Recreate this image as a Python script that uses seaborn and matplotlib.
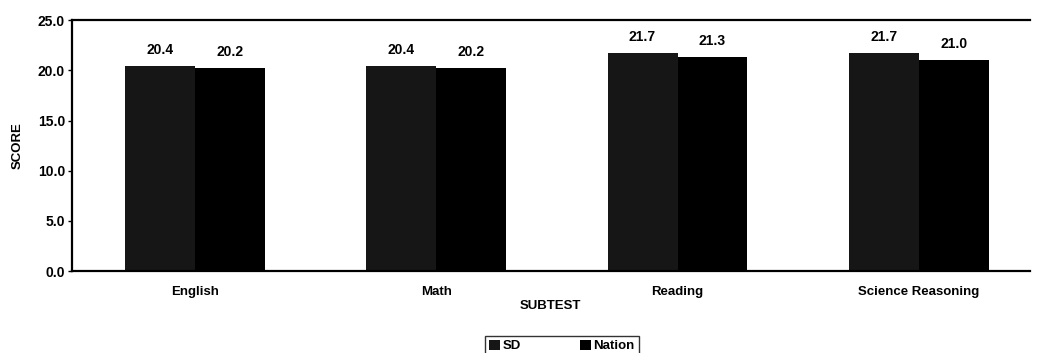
import pandas as pd
import matplotlib.pyplot as plt
import seaborn as sns

# Values
subtests = ['English', 'Math', 'Reading', 'Science Reasoning']
sd_scores = [20.4, 20.4, 21.7, 21.7]
nation_scores = [20.2, 20.2, 21.3, 21.0]
groups = ['SD', 'Nation']
colors = ['#161616', '#000000']

df = pd.DataFrame({
    'SUBTEST': subtests * 2,
    'SCORE': sd_scores + nation_scores,
    'group': [groups[0]] * len(subtests) + [groups[1]] * len(subtests),
})

sns.set_style('white')
plt.rcParams['font.family'] = ['Liberation Sans', 'DejaVu Sans']
plt.rcParams['text.color'] = 'black'
plt.rcParams['axes.labelcolor'] = 'black'
plt.rcParams['xtick.color'] = 'black'
plt.rcParams['ytick.color'] = 'black'

fig = plt.figure(figsize=(10.37, 3.53), dpi=100)
ax = fig.add_axes([0.0694, 0.232, 0.9236, 0.711])

sns.barplot(data=df, x='SUBTEST', y='SCORE', hue='group', hue_order=groups,
            palette=colors, width=0.58, gap=0, saturation=1, ax=ax,
            edgecolor='none', linewidth=0)

for cont in ax.containers:
    ax.bar_label(cont, fmt='%.1f', padding=7, fontsize=10, fontweight='bold')

ax.set_ylim(0, 25)
ax.set_xlim(-0.51, 3.46)
ax.set_yticks([0, 5, 10, 15, 20, 25])
ax.set_yticklabels([f'{v:.1f}' for v in [0, 5, 10, 15, 20, 25]],
                   fontsize=10, fontweight='bold')
ax.tick_params(axis='y', length=3, width=1, pad=2, left=True)
ax.tick_params(axis='x', length=0, pad=11, labelsize=9.5)
for lbl in ax.get_xticklabels():
    lbl.set_fontweight('bold')

ax.set_xlabel('SUBTEST', fontsize=9.5, fontweight='bold', labelpad=1)
ax.set_ylabel('SCORE', fontsize=9.5, fontweight='bold', labelpad=10)

for side in ['left', 'bottom', 'top']:
    ax.spines[side].set_visible(True)
    ax.spines[side].set_color('black')
    ax.spines[side].set_linewidth(1.6)
ax.spines['right'].set_visible(False)

ax.legend_.remove()
handles, labels = ax.get_legend_handles_labels()
leg = fig.legend(handles, labels, ncol=2, loc='upper center',
                 bbox_to_anchor=(0.542, 0.068), frameon=True, fancybox=False,
                 handlelength=0.8, handleheight=0.8, handletextpad=0.2,
                 columnspacing=4.5, borderpad=0.3,
                 prop={'size': 9.5, 'weight': 'bold'})
leg.get_frame().set_edgecolor('black')
leg.get_frame().set_linewidth(1)

fig.savefig('out.png', dpi=100)
